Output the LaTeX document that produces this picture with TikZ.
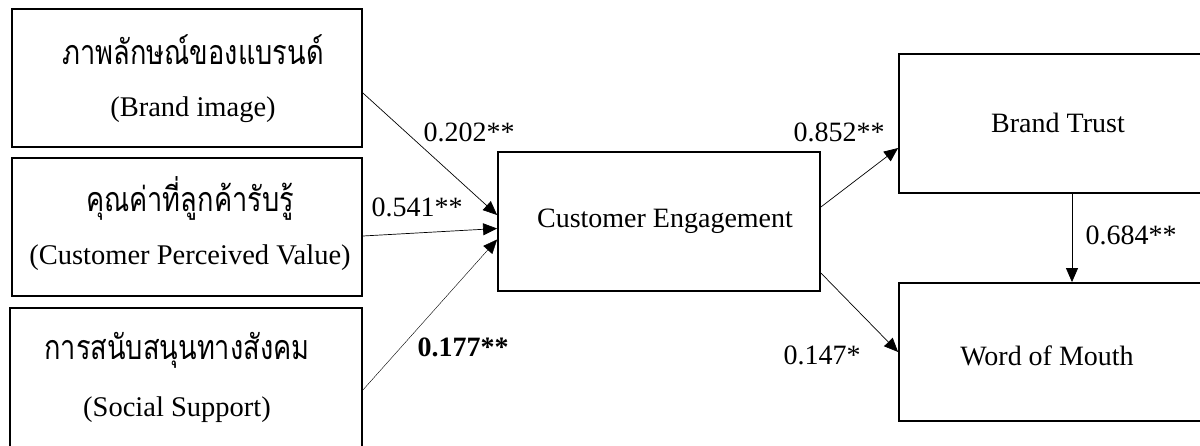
\documentclass[tikz,border=0pt]{standalone}
\usepackage{fontspec}
\setmainfont{Liberation Serif}
\newfontfamily\thaifont[Script=Thai,FakeStretch=0.8]{Loma}
\usetikzlibrary{arrows.meta}
\begin{document}
\begin{tikzpicture}[x=1pt,y=-1pt,
  box/.style={draw,line width=1.8pt,rectangle,inner sep=0pt},
  lbl/.style={inner sep=0pt,font=\fontsize{28.5}{30}\selectfont},
  num/.style={inner sep=0pt,font=\fontsize{28}{30}\selectfont},
  thl/.style={inner sep=0pt,font=\thaifont\fontsize{34}{36}\selectfont},
  arr/.style={line width=0.7pt,-{Triangle[length=14pt,width=12pt]}}]
\useasboundingbox (0,0) rectangle (1200,445);
% left boxes
\node[box,minimum width=350pt,minimum height=138pt] (bi) at (187,78) {};
\node[box,minimum width=350pt,minimum height=138pt] (pv) at (187,227) {};
\node[box,minimum width=352pt,minimum height=160pt] (ss) at (186,388) {};
\node[thl] (biT) at (193,50) {ภาพลักษณ์ของแบรนด์};
\node[lbl] (biE) at (193,110) {(Brand image)};
\node[thl] (pvT) at (190,198) {คุณค่าที่ลูกค้ารับรู้};
\node[lbl] (pvE) at (190,258) {(Customer Perceived Value)};
\node[thl] (ssT) at (177,350) {การสนับสนุนทางสังคม};
\node[lbl] (ssE) at (177,410) {(Social Support)};
% centre and right boxes
\node[box,minimum width=322pt,minimum height=139pt] (ce) at (659,221.5) {};
\node[num] (ceT) at (665,221) {Customer Engagement};
\node[box,minimum width=311pt,minimum height=139pt] (bt) at (1054.5,123.5) {};
\node[num] (btT) at (1058,123) {Brand Trust};
\node[box,minimum width=311pt,minimum height=138pt] (wm) at (1054.5,352) {};
\node[num] (wmT) at (1047,356) {Word of Mouth};
% connectors
\draw[arr] ([yshift=-15pt]bi.east) -- ([yshift=6.5pt]ce.west);
\draw[arr] ([yshift=-9pt]pv.east) -- ([yshift=-7pt]ce.west);
\draw[arr,line width=0.4pt] ([yshift=-2pt]ss.east) -- ([yshift=-18pt]ce.west);
\draw[arr] ([yshift=14.5pt]ce.east) -- ([yshift=-24.5pt]bt.west);
\draw[arr] ([yshift=-51.5pt]ce.east) -- (wm.west);
\draw[arr] ([xshift=17.5pt]bt.south) -- ([xshift=17.5pt]wm.north);
% coefficients
\node[num] (c1) at (469,132) {0.202**};
\node[num] (c2) at (417,207) {0.541**};
\node[num,font=\bfseries\fontsize{28}{30}\selectfont] (c3) at (463,347) {0.177**};
\node[num] (c4) at (839,132) {0.852**};
\node[num] (c5) at (822,355) {0.147*};
\node[num] (c6) at (1131,235) {0.684**};
\end{tikzpicture}
\end{document}
